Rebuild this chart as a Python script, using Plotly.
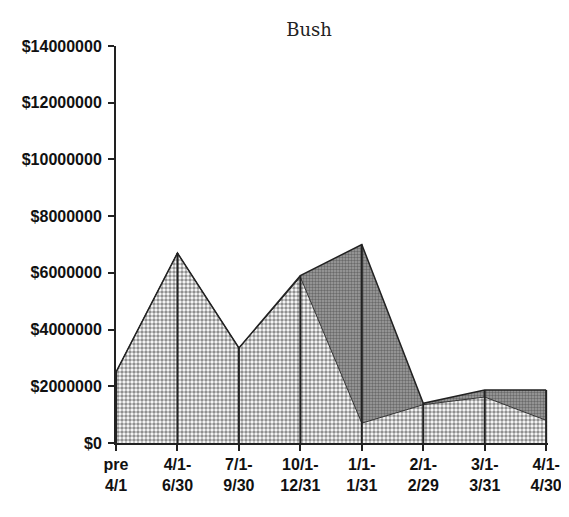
import plotly.graph_objects as go

# Periods along the x axis
periods = ['pre 4/1', '4/1-6/30', '7/1-9/30', '10/1-12/31', '1/1-1/31', '2/1-2/29', '3/1-3/31', '4/1-4/30']
period_labels = ['pre<br>4/1', '4/1-<br>6/30', '7/1-<br>9/30', '10/1-<br>12/31', '1/1-<br>1/31', '2/1-<br>2/29', '3/1-<br>3/31', '4/1-<br>4/30']

# Stacked series (dollars)
lower_values = [2500000, 6700000, 3350000, 5850000, 700000, 1350000, 1620000, 800000]
upper_values = [0, 0, 0, 50000, 6300000, 50000, 250000, 1070000]

# Y axis ticks
y_ticks = [0, 2000000, 4000000, 6000000, 8000000, 10000000, 12000000, 14000000]
y_tick_text = ['$0', '$2000000', '$4000000', '$6000000', '$8000000', '$10000000', '$12000000', '$14000000']

totals = [a + b for a, b in zip(lower_values, upper_values)]
x_pos = list(range(len(periods)))

# Segments for the drop lines (each category: total down to zero)
drop_x = []
drop_y = []
for i, t in zip(x_pos, totals):
	drop_x += [i, i, None]
	drop_y += [0, t, None]

tick_font = dict(family="Liberation Sans, Arial, sans-serif", size=16, color="#111", weight="bold")

fig = go.Figure()

# Light dotted area (bottom of the stack)
fig.add_trace(go.Scatter(
	x=x_pos,
	y=lower_values,
	mode="lines",
	stackgroup="one",
	line=dict(color="#333", width=1),
	fillcolor="#ffffff",
	fillpattern=dict(shape=".", fgcolor="#222", bgcolor="#ffffff", size=4, solidity=0.6),
	showlegend=False,
))

# Darker area on top
fig.add_trace(go.Scatter(
	x=x_pos,
	y=upper_values,
	mode="lines",
	stackgroup="one",
	line=dict(color="#222", width=1.5),
	fillcolor="#999999",
	fillpattern=dict(shape=".", fgcolor="#333", bgcolor="#a0a0a0", size=3, solidity=0.5),
	showlegend=False,
))

# Drop lines from each total down to the axis
fig.add_trace(go.Scatter(
	x=drop_x,
	y=drop_y,
	mode="lines",
	line=dict(color="#222", width=2),
	connectgaps=False,
	showlegend=False,
	hoverinfo="skip",
))

# The page adds an 8px body margin, so the figure is a bit smaller than the window
fig.update_layout(
	width=561,
	height=501,
	paper_bgcolor="white",
	plot_bgcolor="white",
	margin=dict(l=108, r=21, t=38, b=66),
	title=dict(
		text="Bush",
		font=dict(family="DejaVu Serif, Liberation Serif, serif", size=18, color="#222"),
		x=0.447, xref="paper", xanchor="center",
		y=0.957, yref="container", yanchor="middle",
	),
)

fig.update_xaxes(
	range=[0, 7.03],
	tickvals=x_pos,
	ticktext=period_labels,
	tickfont=tick_font,
	automargin=False,
	ticklabeloverflow="allow",
	showgrid=False,
	zeroline=False,
	showline=True,
	linecolor="#222",
	linewidth=2,
	ticks="outside",
	ticklen=6,
	tickwidth=2,
	tickcolor="#222",
)

fig.update_yaxes(
	range=[0, 14000000],
	tickvals=y_ticks,
	ticktext=y_tick_text,
	tickfont=tick_font,
	automargin=False,
	ticklabelstandoff=3,
	showgrid=False,
	zeroline=False,
	showline=True,
	linecolor="#222",
	linewidth=2,
	ticks="outside",
	ticklen=6,
	tickwidth=2,
	tickcolor="#222",
)

fig.write_html("out.html")
